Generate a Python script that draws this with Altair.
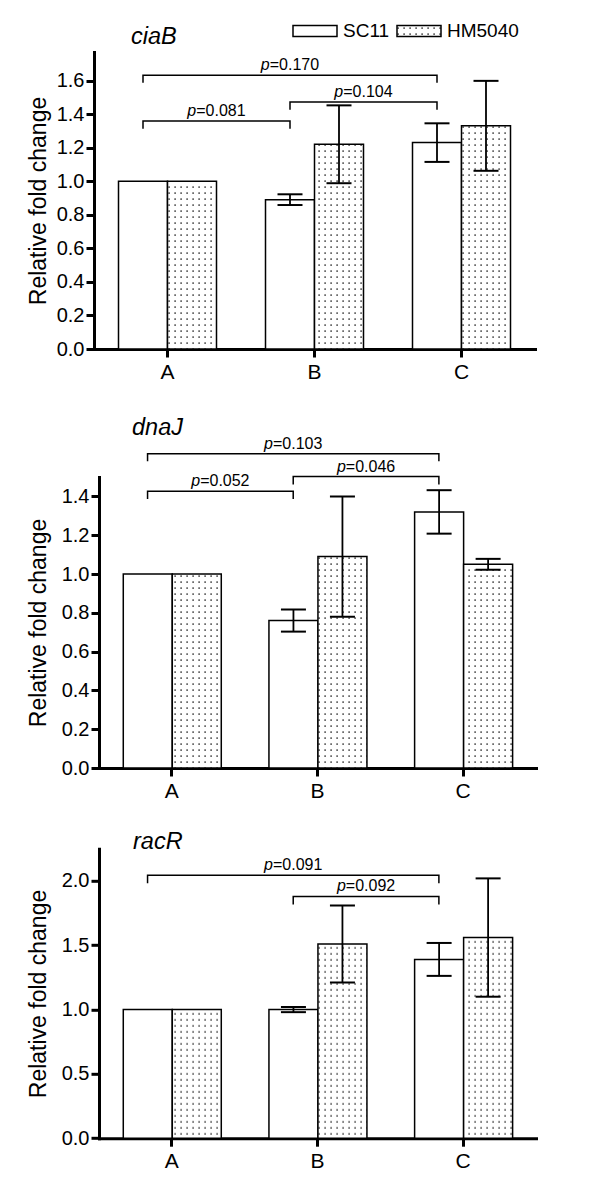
import jinja2
import altair as alt
import pandas as pd

# ---------------- data ----------------
categories = ["A", "B", "C"]
strains = ["SC11", "HM5040"]

ciab_sc11 = [1.00, 0.89, 1.23]
ciab_sc11_sd = [0.0, 0.032, 0.115]
ciab_hm = [1.00, 1.22, 1.33]
ciab_hm_sd = [0.0, 0.232, 0.268]
ciab_from = ["A", "B", "A"]
ciab_to = ["B", "C", "C"]
ciab_p = ["0.081", "0.104", "0.170"]
ciab_top = [1.359, 1.472, 1.631]
ciab_leg = [1.313, 1.426, 1.587]

dnaj_sc11 = [1.00, 0.76, 1.32]
dnaj_sc11_sd = [0.0, 0.057, 0.112]
dnaj_hm = [1.00, 1.09, 1.05]
dnaj_hm_sd = [0.0, 0.31, 0.028]
dnaj_from = ["A", "B", "A"]
dnaj_to = ["B", "C", "C"]
dnaj_p = ["0.052", "0.046", "0.103"]
dnaj_top = [1.426, 1.502, 1.620]
dnaj_leg = [1.387, 1.461, 1.581]

racr_sc11 = [1.00, 1.00, 1.39]
racr_sc11_sd = [0.0, 0.02, 0.128]
racr_hm = [1.00, 1.51, 1.56]
racr_hm_sd = [0.0, 0.30, 0.46]
racr_from = ["B", "A"]
racr_to = ["C", "C"]
racr_p = ["0.092", "0.091"]
racr_top = [1.880, 2.045]
racr_leg = [1.816, 1.982]

FONT = "Liberation Sans"
YTITLE = "Relative fold change"

TEMPLATE = jinja2.Template("""<!DOCTYPE html>
<html>
<head>
  <style>
    #{{ output_div }}.vega-embed { width: 100%; display: flex; }
    #{{ output_div }}.vega-embed details,
    #{{ output_div }}.vega-embed details summary { position: relative; }
  </style>
  <script type="text/javascript" src="{{ base_url }}/vega@{{ vega_version }}"></script>
  <script type="text/javascript" src="{{ base_url }}/vega-lite@{{ vegalite_version }}"></script>
  <script type="text/javascript" src="{{ base_url }}/vega-embed@{{ vegaembed_version }}"></script>
</head>
<body>
  <svg width="0" height="0" style="position:absolute">
    <defs>
      <pattern id="dots" patternUnits="userSpaceOnUse" width="6" height="6">
        <rect width="6" height="6" fill="#ffffff"></rect>
        <rect x="2.4" y="2.4" width="1.4" height="1.4" fill="#1a1a1a"></rect>
      </pattern>
    </defs>
  </svg>
  <div id="{{ output_div }}"></div>
  <script type="text/javascript">
    (function(vegaEmbed) {
      var spec = {{ spec }};
      var embedOpt = {{ embed_options }};
      function showError(el, error){
        el.innerHTML = ('<div style="color:red;"><p>JavaScript Error: ' + error.message + '</p></div>');
        throw error;
      }
      const el = document.getElementById('{{ output_div }}');
      vegaEmbed("#{{ output_div }}", spec, embedOpt).catch(error => showError(el, error));
    })(vegaEmbed);
  </script>
</body>
</html>""")


def panel(gene, sc, sc_sd, hm, hm_sd, cfrom, cto, cp, ctop, cleg,
          ymax, yvals, w, h, left_gap, title_dx, title_offset, ytitle_pad, show_legend):
    rows = []
    for i, c in enumerate(categories):
        rows.append({"cat": c, "strain": "SC11", "v": sc[i], "sd": sc_sd[i]})
        rows.append({"cat": c, "strain": "HM5040", "v": hm[i], "sd": hm_sd[i]})
    bars_df = pd.DataFrame(rows)
    err_df = bars_df[bars_df["sd"] > 0].copy()
    err_df["lo"] = err_df["v"] - err_df["sd"]
    err_df["hi"] = err_df["v"] + err_df["sd"]
    caps_df = pd.concat([
        err_df.assign(cap=err_df["lo"]),
        err_df.assign(cap=err_df["hi"]),
    ])

    line_rows, txt_mid, txt_edge = [], [], []
    for k in range(len(cfrom)):
        i0, i1 = categories.index(cfrom[k]), categories.index(cto[k])
        for o, (c, yv) in enumerate([(cfrom[k], cleg[k]), (cfrom[k], ctop[k]),
                                     (cto[k], ctop[k]), (cto[k], cleg[k])]):
            line_rows.append({"bid": k, "ord": o, "cat": c, "yv": yv})
        if (i1 - i0) % 2 == 0:
            txt_mid.append({"cat": categories[(i0 + i1) // 2], "yv": ctop[k], "p": cp[k]})
        else:
            txt_edge.append({"cat": categories[(i0 + i1 - 1) // 2], "yv": ctop[k], "p": cp[k]})
    line_df = pd.DataFrame(line_rows)

    xscale = alt.Scale(domain=categories, paddingInner=1 / 3, paddingOuter=1 / 6,
                       range=[left_gap, w])
    xaxis = alt.Axis(title=None, labelAngle=0, labelFont=FONT, labelFontSize=21,
                     labelColor="black", labelPadding=4, tickSize=8, tickWidth=3,
                     tickColor="black", domainColor="black", domainWidth=3,
                     domainCap="square", grid=False)
    yscale = alt.Scale(domain=[0, ymax], nice=False, zero=True)
    yaxis = alt.Axis(values=yvals, format=".1f", title=YTITLE, titleFont=FONT,
                     titleFontSize=23, titleFontWeight="normal", titleColor="black",
                     titlePadding=ytitle_pad, labelFont=FONT, labelFontSize=20,
                     labelColor="black", labelPadding=2, tickSize=8, tickWidth=3,
                     tickColor="black", domainColor="black", domainWidth=3,
                     domainCap="square", grid=False, offset=-left_gap)
    xoff = alt.XOffset("strain:N", scale=alt.Scale(domain=strains), sort=strains)

    if show_legend:
        legend = alt.Legend(title=None, orient="none", legendX=198, legendY=-44,
                            direction="horizontal", columns=2,
                            symbolType="M-1,-0.25H1V0.25H-1Z", symbolSize=1936,
                            symbolStrokeColor="black", symbolStrokeWidth=1.5,
                            labelFont=FONT, labelFontSize=19, labelColor="black",
                            labelOffset=5, columnPadding=4, padding=0)
    else:
        legend = None

    bars = alt.Chart(bars_df).mark_bar(stroke="black", strokeWidth=1.5).encode(
        x=alt.X("cat:N", scale=xscale, axis=xaxis, sort=categories),
        xOffset=xoff,
        y=alt.Y("v:Q", scale=yscale, axis=yaxis, title=YTITLE),
        fill=alt.Fill("strain:N", scale=alt.Scale(domain=strains,
                                                   range=["#ffffff", "url(#dots)"]),
                      legend=legend, sort=strains),
    )
    errs = alt.Chart(err_df).mark_rule(color="black", strokeWidth=1.8).encode(
        x=alt.X("cat:N", scale=xscale, axis=xaxis, sort=categories),
        xOffset=xoff,
        y=alt.Y("lo:Q", scale=yscale, axis=yaxis, title=YTITLE),
        y2="hi:Q",
    )
    caps = alt.Chart(caps_df).mark_tick(color="black", thickness=2, size=25,
                                        orient="horizontal", opacity=1).encode(
        x=alt.X("cat:N", scale=xscale, axis=xaxis, sort=categories),
        xOffset=xoff,
        y=alt.Y("cap:Q", scale=yscale, axis=yaxis, title=YTITLE),
    )
    brackets = alt.Chart(line_df).mark_line(color="black", strokeWidth=1.5,
                                            strokeCap="butt").encode(
        x=alt.X("cat:N", scale=xscale, axis=xaxis, sort=categories, bandPosition=0.25),
        y=alt.Y("yv:Q", scale=yscale, axis=yaxis, title=YTITLE),
        detail="bid:N",
        order="ord:Q",
    )
    layers = [bars, errs, caps, brackets]
    for data, bp in [(txt_mid, 0.25), (txt_edge, 1.0)]:
        if not data:
            continue
        tdf = pd.DataFrame(data)
        enc = dict(
            x=alt.X("cat:N", scale=xscale, axis=xaxis, sort=categories, bandPosition=bp),
            y=alt.Y("yv:Q", scale=yscale, axis=yaxis, title=YTITLE),
        )
        tp = alt.Chart(tdf).mark_text(font=FONT, fontSize=16, fontStyle="italic",
                                      color="black", align="right", baseline="alphabetic",
                                      dx=-20.25, dy=-5).encode(text=alt.value("p"), **enc)
        tv = alt.Chart(tdf).transform_calculate(lab="'=' + datum.p").mark_text(
            font=FONT, fontSize=16, color="black", align="left",
            baseline="alphabetic", dx=-20.25, dy=-5).encode(text="lab:N", **enc)
        layers += [tp, tv]

    return alt.layer(*layers).properties(
        width=w, height=h,
        title=alt.TitleParams(gene, anchor="start", frame="group", dx=title_dx,
                              offset=title_offset, font=FONT, fontSize=23.5,
                              fontStyle="italic", fontWeight="normal",
                              color="black", baseline="alphabetic"),
    )


p1 = panel("ciaB", ciab_sc11, ciab_sc11_sd, ciab_hm, ciab_hm_sd, ciab_from, ciab_to,
           ciab_p, ciab_top, ciab_leg, 1.77, [0, 0.2, 0.4, 0.6, 0.8, 1.0, 1.2, 1.4, 1.6],
           441, 297, 0, 37, -59, 6, True)
p2 = panel("dnaJ", dnaj_sc11, dnaj_sc11_sd, dnaj_hm, dnaj_hm_sd, dnaj_from, dnaj_to,
           dnaj_p, dnaj_top, dnaj_leg, 1.5, [0, 0.2, 0.4, 0.6, 0.8, 1.0, 1.2, 1.4],
           442, 291, 5, 38, -22.6, 11, False)
p3 = panel("racR", racr_sc11, racr_sc11_sd, racr_hm, racr_hm_sd, racr_from, racr_to,
           racr_p, racr_top, racr_leg, 2.25, [0, 0.5, 1.0, 1.5, 2.0],
           442, 289.4, 5, 39, -23.5, 11, False)

inner = alt.vconcat(p2, p3, spacing=28.8).resolve_scale(
    x="independent", y="independent", fill="independent")
chart = alt.vconcat(p1, inner, spacing=33).resolve_scale(
    x="independent", y="independent", fill="independent"
).configure(
    padding={"left": 19, "top": 0, "right": 5, "bottom": 5},
    background="white",
).configure_view(stroke="transparent", strokeWidth=0)

chart.save("out.html", embed_options={"renderer": "svg", "actions": False},
           template=TEMPLATE)
